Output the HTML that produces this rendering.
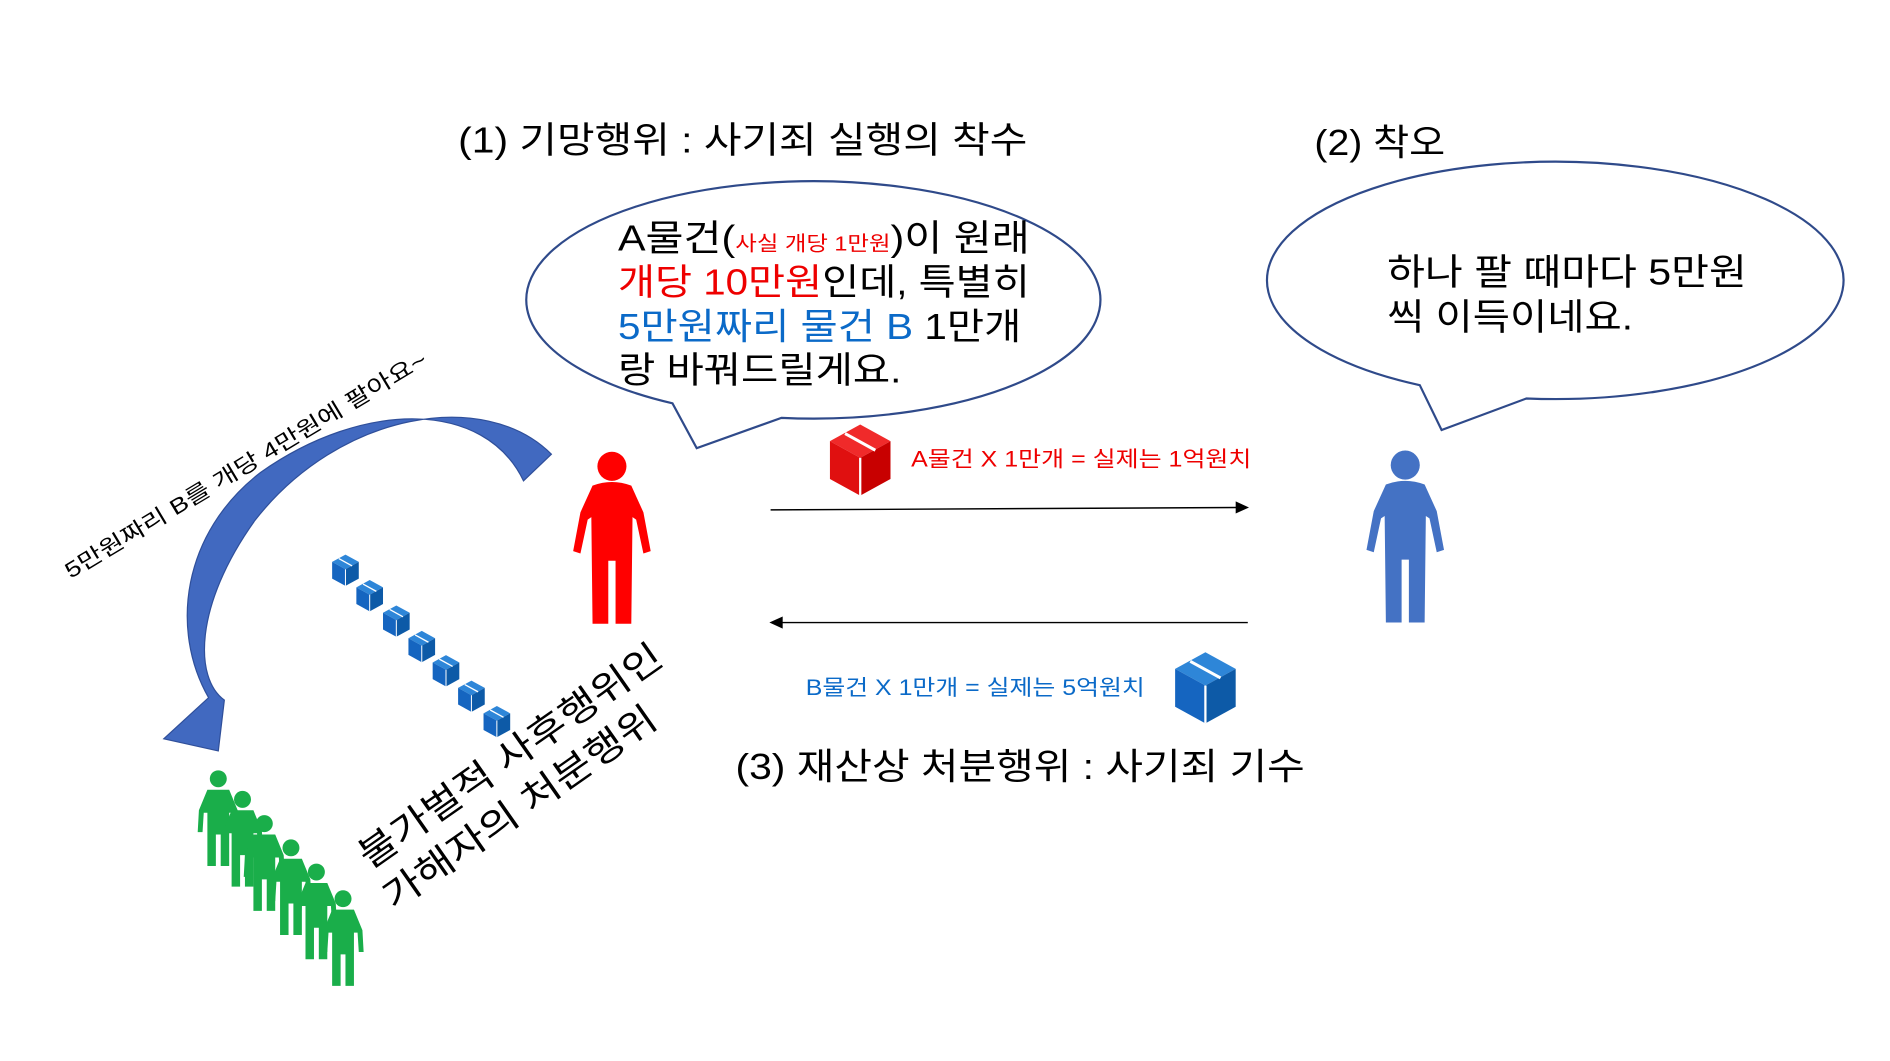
<!DOCTYPE html>
<html><head><meta charset="utf-8"><style>
html,body{margin:0;padding:0;background:#fff;}
svg{display:block;}
text{font-family:"Liberation Sans","Noto Sans CJK KR",sans-serif;}
</style></head><body>
<svg width="1890" height="1061" viewBox="0 0 1560 876" xmlns="http://www.w3.org/2000/svg">
<defs>
<g id="box">
<polygon points="0,-22 20,-11 0,0 -20,-11" fill="#2e86d8"/>
<polygon points="-20,-11 0,0 0,25 -20,14" fill="#1565c0"/>
<polygon points="20,-11 0,0 0,25 20,14" fill="#0d5aa7"/>
<line x1="-10" y1="-16" x2="10" y2="-5" stroke="#fff" stroke-width="2"/>
<line x1="0" y1="0" x2="0" y2="25" stroke="#fff" stroke-width="1.5"/>
</g>
<g id="rbox">
<polygon points="0,-22 20,-11 0,0 -20,-11" fill="#f02a2a"/>
<polygon points="-20,-11 0,0 0,25 -20,14" fill="#e01010"/>
<polygon points="20,-11 0,0 0,25 20,14" fill="#c80000"/>
<line x1="-10" y1="-16" x2="10" y2="-5" stroke="#fff" stroke-width="2"/>
<line x1="0" y1="0" x2="0" y2="25" stroke="#fff" stroke-width="1.5"/>
</g>
<g id="man">
<circle cx="0" cy="0" r="12"/>
<path d="M-16,16 Q0,10 16,16 L26,38 L32,70 L26,72 L20,44 L17,42 L16,130 L3,130 L3,78 L-3,78 L-3,130 L-16,130 L-17,42 L-20,44 L-26,72 L-32,70 L-26,38 Z"/>
</g>
<g id="gman">
<circle cx="0" cy="0" r="7"/>
<path d="M-9,9 L9,9 L16,26 L17,44 L13,44 L12,28 L9,28 L9,72 L2,72 L2,46 L-2,46 L-2,72 L-9,72 L-9,28 L-12,28 L-13,44 L-17,44 L-16,26 Z"/>
</g>
</defs>

<text x="378" y="126" font-size="30" fill="#000" textLength="470" lengthAdjust="spacingAndGlyphs">(1) 기망행위 : 사기죄 실행의 착수</text>
<text x="1085" y="128" font-size="30" fill="#000" textLength="108" lengthAdjust="spacingAndGlyphs">(2) 착오</text>

<!-- bubble 1 -->
<path d="M555,333 A237,98 0 1 1 645,345 L575,370 Z" fill="#fff" stroke="#2f4a8a" stroke-width="1.8"/>
<text x="510" y="207" font-size="30" fill="#000" textLength="340" lengthAdjust="spacingAndGlyphs">A물건(<tspan fill="#e00" font-size="17">사실 개당 1만원</tspan>)이 원래</text>
<text x="510" y="243" font-size="30" textLength="340" lengthAdjust="spacingAndGlyphs"><tspan fill="#e00">개당 10만원</tspan><tspan fill="#000">인데, 특별히</tspan></text>
<text x="510" y="280" font-size="30" textLength="333" lengthAdjust="spacingAndGlyphs"><tspan fill="#0b6ac8">5만원짜리 물건 B </tspan><tspan fill="#000">1만개</tspan></text>
<text x="510" y="316" font-size="30" fill="#000" textLength="234" lengthAdjust="spacingAndGlyphs">랑 바꿔드릴게요.</text>

<!-- bubble 2 -->
<path d="M1172,318 A238,98 0 1 1 1260,329 L1190,355 Z" fill="#fff" stroke="#2f4a8a" stroke-width="1.8"/>
<text x="1145" y="235" font-size="30" fill="#000" textLength="297" lengthAdjust="spacingAndGlyphs">하나 팔 때마다 5만원</text>
<text x="1145" y="272" font-size="30" fill="#000" textLength="203" lengthAdjust="spacingAndGlyphs">씩 이득이네요.</text>

<!-- people -->
<use href="#man" x="505" y="385" fill="#f00"/>
<use href="#man" x="1160" y="384" fill="#4472c4"/>

<!-- red box and text -->
<g transform="translate(710,378) scale(1.25)"><use href="#rbox"/></g>
<text x="752" y="385" font-size="18" fill="#e00" textLength="281" lengthAdjust="spacingAndGlyphs">A물건 X 1만개 = 실제는 1억원치</text>
<line x1="636" y1="421" x2="1022" y2="419" stroke="#000" stroke-width="1.2"/>
<polygon points="1031,419 1020,414 1020,424" fill="#000"/>
<line x1="644" y1="514" x2="1030" y2="514" stroke="#000" stroke-width="1.2"/>
<polygon points="635,514 646,509 646,519" fill="#000"/>

<text x="665" y="574" font-size="18" fill="#0b6ac8" textLength="280" lengthAdjust="spacingAndGlyphs">B물건 X 1만개 = 실제는 5억원치</text>
<g transform="translate(995,566) scale(1.25)"><use href="#box"/></g>

<text x="607" y="643" font-size="30" fill="#000" textLength="470" lengthAdjust="spacingAndGlyphs">(3) 재산상 처분행위 : 사기죄 기수</text>

<!-- curved arrow -->
<path d="M455,375 C400,320 280,340 210,430 C160,500 160,560 185,578 L180,620 L135,610 L172,576 C140,520 150,440 215,390 C300,330 400,330 432,397 Z" fill="#4169c0" stroke="#2f4f9a" stroke-width="1"/>

<text transform="translate(58,478) rotate(-31)" font-size="18" fill="#000" textLength="345" lengthAdjust="spacingAndGlyphs">5만원짜리 B를 개당 4만원에 팔아요~</text>

<!-- small boxes -->
<g transform="translate(285,470) scale(0.55)"><use href="#box"/></g>
<g transform="translate(305,491) scale(0.55)"><use href="#box"/></g>
<g transform="translate(327,512) scale(0.55)"><use href="#box"/></g>
<g transform="translate(348,533) scale(0.55)"><use href="#box"/></g>
<g transform="translate(368,553) scale(0.55)"><use href="#box"/></g>
<g transform="translate(389,574) scale(0.55)"><use href="#box"/></g>
<g transform="translate(410,595) scale(0.55)"><use href="#box"/></g>

<!-- green people -->
<g fill="#1aae4a">
<use href="#gman" x="180" y="643"/>
<use href="#gman" x="200" y="660"/>
<use href="#gman" x="218" y="680"/>
<use href="#gman" x="240" y="700"/>
<use href="#gman" x="261" y="720"/>
<use href="#gman" x="283" y="742"/>
</g>

<text transform="translate(305,718) rotate(-35)" font-size="30" fill="#000" textLength="298" lengthAdjust="spacingAndGlyphs">불가벌적 사후행위인</text>
<text transform="translate(325,752) rotate(-35)" font-size="30" fill="#000" textLength="268" lengthAdjust="spacingAndGlyphs">가해자의 처분행위</text>
</svg>
</body></html>
